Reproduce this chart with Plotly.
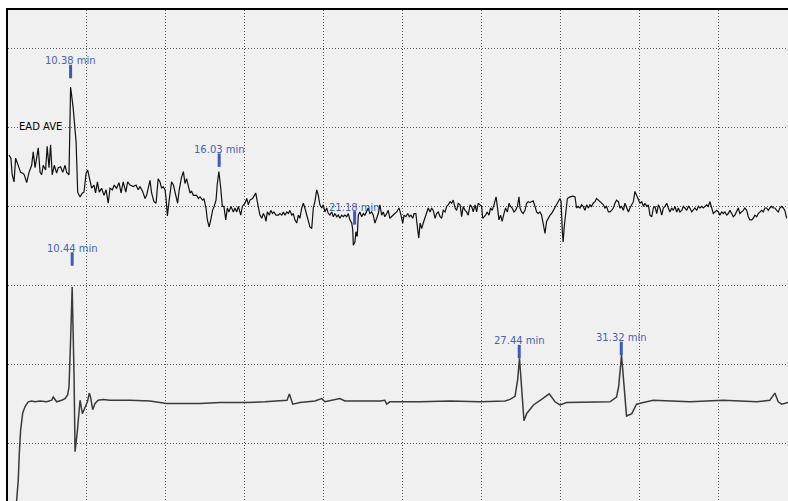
import plotly.graph_objects as go

# ---------------- EAD (averaged antennal response) trace: time (min) / signal (grid units)
ead_time_a = [8.04,8.11,8.16,8.23,8.29,8.39,8.48,8.56,8.62,8.71,8.80,8.90,8.96,9.03,9.09,9.15,9.22,9.28,9.34,9.43,
              9.49,9.56,9.62,9.68,9.76,9.85,9.91,10.00,10.08,10.17,10.23,10.32,10.38,10.48,10.59,10.65,10.74,10.83,10.89,10.97,
              11.03,11.09,11.18,11.27,11.33,11.40,11.47,11.56,11.65,11.73,11.81,11.88,11.97,12.04,12.13,12.22,12.30,12.38,12.48,12.55]
ead_sig_a = [3.65,3.61,3.40,3.31,3.61,3.52,3.43,3.42,3.40,3.30,3.43,3.52,3.69,3.49,3.61,3.74,3.43,3.40,3.52,3.46,
             3.76,3.49,3.78,3.40,3.52,3.42,3.49,3.50,3.43,3.52,3.43,3.40,4.51,4.24,3.81,3.18,3.12,3.17,3.18,3.42,
             3.46,3.36,3.23,3.27,3.17,3.31,3.18,3.23,3.14,3.21,3.04,3.23,3.21,3.27,3.23,3.30,3.17,3.31,3.18,3.31]

ead_time_b = [12.64,12.76,12.87,12.95,13.02,13.12,13.21,13.27,13.33,13.40,13.46,13.55,13.63,13.71,13.78,13.84,13.90,13.97,14.01,14.06,
              14.13,14.22,14.29,14.39,14.45,14.51,14.60,14.67,14.73,14.79,14.86,14.92,14.98,15.05,15.17,15.24,15.30,15.40,15.45,15.53,
              15.58,15.65,15.71,15.78,15.84,15.91,15.96,16.02,16.09,16.15,16.21,16.28,16.34,16.40,16.48,16.57,16.63,16.70,16.76,16.85,
              16.91,17.01,17.08,17.14,17.20,17.30,17.37,17.42,17.48]
ead_sig_b = [3.27,3.25,3.27,3.21,3.25,3.19,3.10,3.14,3.23,3.33,3.17,3.06,3.04,3.35,3.31,3.23,3.25,3.21,3.10,2.88,
             3.08,3.31,3.27,3.10,3.04,3.21,3.37,3.44,3.29,3.35,3.25,3.17,3.19,3.14,3.14,3.10,3.12,3.08,3.10,2.98,
             2.83,2.74,2.83,2.95,3.00,3.08,3.29,3.44,3.23,3.00,3.00,2.83,2.98,2.93,3.00,2.93,2.98,2.93,3.00,2.89,
             3.00,3.04,3.10,3.02,3.08,3.10,3.14,3.17,3.06]

ead_time_c = [17.58,17.65,17.71,17.77,17.81,17.86,17.94,17.99,18.06,18.11,18.19,18.28,18.34,18.41,18.47,18.53,18.60,18.66,18.72,18.79,
              18.85,18.91,18.98,19.04,19.10,19.17,19.23,19.29,19.36,19.42,19.48,19.55,19.61,19.67,19.74,19.80,19.86,19.93,19.99,20.05,
              20.12,20.18,20.24,20.31,20.37,20.43,20.50,20.56,20.62,20.69,20.75,20.81,20.88,20.94,21.00,21.07,21.11,21.13,21.19,21.23,
              21.28,21.32,21.38,21.45,21.51,21.57,21.64,21.70,21.76,21.83,21.89,21.95,22.02,22.08,22.14,22.21,22.27,22.33,22.40,22.46]
ead_sig_c = [2.89,2.85,2.91,2.87,2.81,2.93,2.89,2.95,2.91,2.93,2.89,2.89,2.91,2.89,2.93,2.89,2.93,2.91,2.95,2.89,
             2.91,2.83,2.79,2.89,2.85,2.98,3.04,2.98,2.89,2.81,2.74,2.72,2.98,3.06,3.21,3.14,3.02,2.98,3.02,2.93,
             2.98,2.91,2.89,2.93,2.87,2.91,2.87,2.89,2.85,2.89,2.87,2.89,2.87,2.91,2.83,2.79,2.70,2.51,2.55,2.68,
             2.62,2.89,2.93,2.87,2.91,2.89,2.93,2.98,2.91,2.93,2.89,2.79,2.85,2.91,3.02,2.89,2.93,2.87,2.91,2.95]

ead_time_d = [22.52,22.63,22.71,22.78,22.87,22.93,23.01,23.06,23.13,23.20,23.26,23.32,23.39,23.44,23.51,23.56,23.62,23.67,23.73,23.79,
              23.86,23.92,23.98,24.05,24.11,24.17,24.24,24.30,24.36,24.43,24.49,24.55,24.62,24.68,24.74,24.81,24.87,24.93,25.00,25.06,
              25.12,25.19,25.25,25.31,25.38,25.44,25.50,25.57,25.63,25.69,25.76,25.82,25.88,25.95,26.01,26.05,26.10,26.16,26.22,26.29,
              26.35,26.41,26.48,26.56,26.60,26.67,26.73,26.79,26.86,26.92,26.99,27.05,27.11,27.17,27.24,27.30,27.37,27.43]
ead_sig_d = [2.85,2.89,2.91,2.93,2.98,2.91,2.79,2.89,2.87,2.91,2.87,2.89,2.85,2.91,2.91,2.76,2.60,2.79,2.72,2.79,
             2.87,2.91,2.98,2.93,2.98,2.95,2.85,2.91,2.93,2.87,2.85,2.95,2.93,3.00,3.02,3.06,3.04,3.08,2.98,2.95,
             3.04,3.02,2.87,3.00,2.95,2.93,2.89,3.02,3.00,2.93,3.02,2.93,3.04,3.02,3.00,2.85,2.87,2.89,2.93,2.89,
             2.98,2.95,3.02,3.12,3.02,2.83,2.89,2.81,2.91,2.98,2.93,3.04,3.00,2.98,2.93,2.95,3.00,3.12]

ead_time_e = [27.47,27.53,27.59,27.66,27.72,27.78,27.85,27.91,27.97,28.04,28.10,28.16,28.23,28.29,28.35,28.42,28.48,28.54,28.61,28.67,
              28.73,28.80,28.86,28.92,28.99,29.03,29.08,29.11,29.15,29.21,29.27,29.37,29.49,29.56,29.62,29.68,29.75,29.81,29.87,29.94,
              30.00,30.07,30.13,30.19,30.25,30.32,30.38,30.45,30.51,30.57,30.64,30.70,30.76,30.83,30.89,30.95,31.02,31.08,31.14,31.21,
              31.27,31.33,31.40,31.46,31.52,31.59,31.65,31.72,31.78,31.84,31.90,31.97,32.03,32.10,32.16,32.22,32.29,32.35]
ead_sig_e = [2.98,2.93,2.91,2.95,3.04,3.06,3.05,3.06,3.07,3.00,2.93,2.91,2.93,2.89,2.79,2.66,2.81,2.85,2.89,2.91,
             2.95,3.00,3.03,3.06,3.10,3.06,2.68,2.55,2.74,2.93,3.10,3.12,3.13,3.12,2.98,3.00,2.98,3.02,3.00,2.95,
             3.02,2.98,3.02,3.00,3.04,3.06,3.10,3.08,3.06,3.04,3.02,2.98,3.00,2.93,2.93,2.95,2.98,3.04,3.08,3.06,
             2.98,3.00,2.95,3.04,2.98,2.93,2.98,3.02,3.06,3.19,3.14,3.10,3.04,3.06,3.00,3.04,3.00,3.02]

ead_time_f = [32.41,32.48,32.54,32.60,32.67,32.73,32.79,32.86,32.92,32.98,33.05,33.11,33.17,33.24,33.30,33.36,33.43,33.49,33.55,33.62,
              33.68,33.74,33.81,33.87,33.93,34.00,34.06,34.12,34.19,34.25,34.31,34.38,34.44,34.50,34.57,34.63,34.69,34.76,34.82,34.88,
              34.95,35.01,35.07,35.14,35.20,35.26,35.33,35.39,35.45,35.52,35.58,35.64,35.71,35.77,35.83,35.90,35.96,36.02,36.09,36.15,
              36.21,36.28,36.34,36.40,36.47,36.53,36.59,36.66,36.72,36.78,36.85,36.91,36.97,37.04,37.10,37.16,37.23,37.29,37.35,37.42,
              37.48,37.54,37.61]
ead_sig_f = [2.89,2.87,2.98,3.00,2.91,3.02,2.98,2.89,2.98,3.00,3.04,2.98,2.93,2.98,2.95,3.00,2.93,2.98,2.93,2.95,
             3.00,2.98,2.95,3.00,2.98,2.93,2.95,2.98,2.95,3.00,2.98,3.00,2.98,3.00,3.02,3.00,3.06,2.98,2.91,2.93,
             2.95,2.93,2.89,2.93,2.91,2.93,2.89,2.91,2.95,2.91,2.87,2.89,2.93,2.98,2.91,2.93,2.95,2.98,2.95,2.87,
             2.83,2.83,2.85,2.89,2.87,2.91,2.93,2.95,2.93,2.98,2.98,2.95,2.98,3.00,2.98,2.98,2.95,2.93,2.98,3.00,
             2.98,2.95,2.85]

# ---------------- FID trace
fid_time = [8.32,8.39,8.43,8.48,8.56,8.65,8.77,8.90,9.03,9.22,9.47,9.66,9.72,9.79,9.85,10.04,10.17,10.27,10.32,10.38,
            10.44,10.51,10.55,10.64,10.74,10.83,10.93,11.02,11.09,11.14,11.22,11.31,11.43,11.62,11.88,12.64,13.40,14.03,14.54,15.30,
            16.06,17.01,17.77,18.34,18.61,18.70,18.83,19.10,19.67,19.93,20.05,20.62,20.81,21.38,22.14,22.33,22.40,22.52,23.67,24.81,
            25.95,26.90,27.09,27.28,27.38,27.45,27.53,27.62,27.72,27.98,28.29,28.58,28.80,28.99,29.24,30.13,30.89,31.14,31.22,31.33,
            31.43,31.52,31.72,31.90,32.16,32.54,33.93,35.20,36.47,36.97,37.16,37.29,37.42,37.61,37.66]
fid_sig = [-0.75,-0.46,-0.12,0.17,0.39,0.47,0.53,0.54,0.53,0.54,0.53,0.55,0.59,0.55,0.53,0.55,0.57,0.62,0.72,1.31,
           1.98,0.89,-0.10,0.17,0.55,0.38,0.47,0.53,0.64,0.59,0.43,0.51,0.55,0.56,0.55,0.55,0.54,0.51,0.51,0.51,
           0.52,0.52,0.53,0.54,0.55,0.63,0.50,0.52,0.54,0.57,0.53,0.57,0.54,0.54,0.54,0.55,0.50,0.53,0.53,0.54,
           0.53,0.54,0.56,0.60,0.81,1.08,0.68,0.29,0.38,0.49,0.56,0.63,0.53,0.49,0.52,0.53,0.53,0.59,0.72,1.12,
           0.72,0.35,0.38,0.50,0.52,0.55,0.53,0.55,0.53,0.55,0.64,0.53,0.50,0.52,0.52]

# ---------------- peak markers
peak_labels = ["10.38 min", "16.03 min", "21.18 min", "10.44 min", "27.44 min", "31.32 min"]
peak_times = [10.38, 16.03, 21.18, 10.44, 27.44, 31.32]
peak_mark_base = [4.62, 3.50, 2.77, 2.25, 1.08, 1.12]
trace_name = "EAD AVE"

ead_time = ead_time_a + ead_time_b + ead_time_c + ead_time_d + ead_time_e + ead_time_f
ead_sig = ead_sig_a + ead_sig_b + ead_sig_c + ead_sig_d + ead_sig_e + ead_sig_f

MARK_H = 0.17
mx, my = [], []
for t, b in zip(peak_times, peak_mark_base):
    mx += [t, t, None]
    my += [b, b + MARK_H, None]

fig = go.Figure()
fig.add_trace(go.Scatter(x=fid_time, y=fid_sig, mode="lines",
                         line=dict(color="#3a3a3a", width=1.5), hoverinfo="skip"))
fig.add_trace(go.Scatter(x=ead_time, y=ead_sig, mode="lines",
                         line=dict(color="#111111", width=1.2), hoverinfo="skip"))
fig.add_trace(go.Scatter(x=mx, y=my, mode="lines",
                         line=dict(color="#3d5cb8", width=3), hoverinfo="skip"))

for lab, t, b in zip(peak_labels, peak_times, peak_mark_base):
    fig.add_annotation(x=t, y=b + MARK_H, text=lab, showarrow=False,
                       xanchor="center", yanchor="middle", yshift=4,
                       font=dict(family="DejaVu Sans", size=10, color="#4863b5"))

fig.add_annotation(x=8.37, y=4.01, text=trace_name, showarrow=False,
                   xanchor="left", yanchor="middle", bgcolor="#f0f0f0", borderpad=0,
                   font=dict(family="DejaVu Sans", size=10, color="#000000"))

grid = dict(showgrid=True, gridcolor="#5a5a5a", gridwidth=1, griddash="1px,2px",
            showticklabels=False, ticks="", zeroline=False,
            showline=True, linecolor="#000000", linewidth=2)

fig.update_layout(
    width=788, height=501,
    margin=dict(l=8, r=0, t=10, b=0),
    paper_bgcolor="#ffffff", plot_bgcolor="#f0f0f0",
    showlegend=False,
    xaxis=dict(range=[8, 37.66], tick0=8, dtick=3, side="top", **grid),
    yaxis=dict(range=[-0.724, 5.483], tick0=0, dtick=1, **grid),
)

fig.write_html("out.html", config={"displayModeBar": False},
               post_script="document.body.style.margin='0';")
